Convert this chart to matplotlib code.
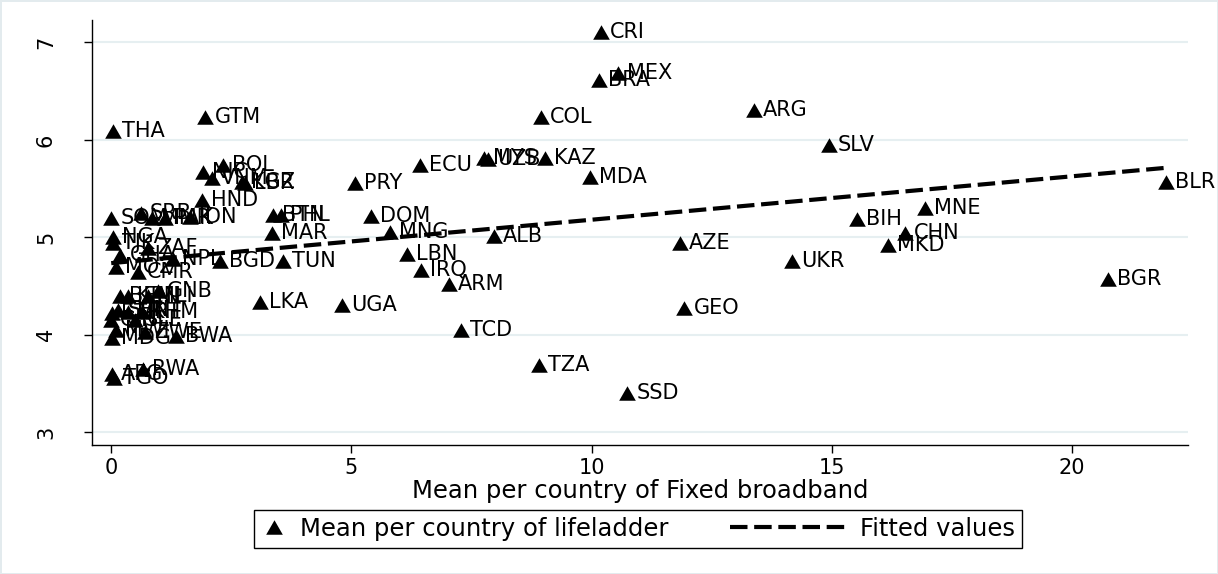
import matplotlib
matplotlib.use("Agg")
import matplotlib.pyplot as plt
import numpy as np
from matplotlib.lines import Line2D
from matplotlib.legend_handler import HandlerBase

# country codes, fixed broadband (mean per country), life ladder (mean per country)
codes = ["CRI", "MEX", "BRA", "ARG", "GTM", "COL", "THA", "SLV", "MYS", "UZB",
         "KAZ", "ECU", "MDA", "PRY", "BOL", "NIC", "VNM", "LBR", "KGZ", "HND",
         "SRB", "SOM", "MMR", "PAK", "IDN", "BTN", "PHL", "DOM", "MAR", "MNG",
         "ALB", "NGA", "TJK", "ZAF", "GHA", "NPL", "BGD", "TUN", "MOZ", "CMR",
         "LBN", "IRQ", "ARM", "UGA", "LKA", "GNB", "BEN", "KEN", "MLI", "ETH",
         "SEN", "MRT", "KHM", "GIN", "SLE", "MWI", "ZWE", "BWA", "MDG", "RWA",
         "AFG", "TGO", "TCD", "TZA", "SSD", "GEO", "AZE", "UKR", "BIH", "MNE",
         "CHN", "MKD", "BLR", "BGR"]
broadband = [10.20, 10.55, 10.16, 13.38, 1.96, 8.95, 0.04, 14.94, 7.76, 7.85,
             9.03, 6.43, 9.97, 5.08, 2.33, 1.91, 2.10, 2.79, 2.72, 1.89,
             0.62, 0.00, 0.85, 1.12, 1.64, 3.37, 3.54, 5.41, 3.35, 5.81,
             7.97, 0.04, 0.03, 0.77, 0.19, 1.29, 2.27, 3.58, 0.10, 0.56,
             6.16, 6.45, 7.03, 4.81, 3.10, 0.98, 0.19, 0.35, 0.77, 0.02,
             0.15, 0.35, 0.65, 0.00, 0.50, 0.10, 0.70, 1.35, 0.02, 0.67,
             0.02, 0.05, 7.28, 8.91, 10.74, 11.93, 11.84, 14.17, 15.53, 16.94,
             16.52, 16.17, 21.96, 20.75]
lifeladder = [7.11, 6.69, 6.61, 6.31, 6.24, 6.24, 6.09, 5.95, 5.81, 5.80,
              5.81, 5.74, 5.62, 5.56, 5.74, 5.67, 5.61, 5.56, 5.57, 5.38,
              5.25, 5.20, 5.20, 5.20, 5.21, 5.23, 5.23, 5.22, 5.04, 5.06,
              5.01, 5.00, 4.94, 4.89, 4.82, 4.78, 4.76, 4.76, 4.70, 4.64,
              4.83, 4.67, 4.52, 4.31, 4.34, 4.45, 4.40, 4.40, 4.40, 4.22,
              4.25, 4.23, 4.23, 4.15, 4.15, 4.05, 4.03, 3.99, 3.97, 3.65,
              3.60, 3.56, 4.05, 3.69, 3.40, 4.28, 4.94, 4.76, 5.19, 5.30,
              5.04, 4.92, 5.57, 4.57]

x_ticks = [0, 5, 10, 15, 20]
y_ticks = [3, 4, 5, 6, 7]
x_title = "Mean per country of Fixed broadband"
legend_labels = ["Mean per country of lifeladder", "Fitted values"]

tri = [(0, 0.87), (-1, -0.87), (1, -0.87), (0, 0.87)]


class DashHandler(HandlerBase):
    # dashed sample that reaches further left than the handle box
    def __init__(self, extra):
        super().__init__()
        self.extra = extra

    def create_artists(self, legend, orig_handle, xdescent, ydescent,
                       width, height, fontsize, trans):
        y = height / 2 - ydescent
        line = Line2D([-xdescent - self.extra, -xdescent + width], [y, y],
                      color="black", lw=3, dashes=(4.2, 1.6))
        line.set_transform(trans)
        return [line]


fig = plt.figure(figsize=(12.18, 5.74), dpi=100)
fig.patch.set_facecolor("white")
fig.patch.set_edgecolor("#e3ebee")
fig.patch.set_linewidth(2)

ax = fig.add_axes([92 / 1218, 1 - 445 / 574, (1188 - 92) / 1218, (445 - 20) / 574])

x = np.array(broadband)
y = np.array(lifeladder)

# fitted values
b, a = np.polyfit(x, y, 1)
xs = np.array([x.min(), x.max()])
ax.plot(xs, a + b * xs, color="black", lw=3, dashes=(4.2, 1.6), zorder=3)

ax.plot(x, y, linestyle="none", marker=tri, ms=12, color="black",
        markeredgewidth=0, zorder=4)
for c, xi, yi in zip(codes, x, y):
    ax.annotate(c, (xi, yi), xytext=(6.5, 0), textcoords="offset points",
                va="center", ha="left", fontsize=15, color="black",
                annotation_clip=False, zorder=5)

ax.set_xlim(-0.4, 22.41)
ax.set_ylim(2.87, 7.23)
ax.set_xticks(x_ticks)
ax.set_yticks(y_ticks)
ax.tick_params(axis="both", length=6, width=1, labelsize=15, color="black")
ax.tick_params(axis="y", pad=20)
ax.tick_params(axis="x", pad=3)
for lab in ax.get_yticklabels():
    lab.set_rotation(90)
    lab.set_va("center")
ax.set_xlabel(x_title, fontsize=17.5, labelpad=1)

ax.grid(axis="y", color="#e6eff1", lw=1.5)
ax.set_axisbelow(True)
for s in ["top", "right"]:
    ax.spines[s].set_visible(False)
for s in ["left", "bottom"]:
    ax.spines[s].set_linewidth(1)

h1 = Line2D([], [], linestyle="none", marker=tri, ms=12, color="black",
            markeredgewidth=0)
h2 = Line2D([], [], color="black", lw=3)
leg = fig.legend([h1, h2], legend_labels, loc="center",
                 bbox_to_anchor=(638 / 1218, 1 - 529 / 574), ncol=2,
                 handlelength=1.1, handletextpad=0.5, columnspacing=6.3,
                 borderpad=0.3, fontsize=17.5, frameon=True, fancybox=False,
                 edgecolor="black", framealpha=1,
                 handler_map={h2: DashHandler(66)})
leg.get_frame().set_linewidth(1)

fig.savefig("out.png", dpi=100)
